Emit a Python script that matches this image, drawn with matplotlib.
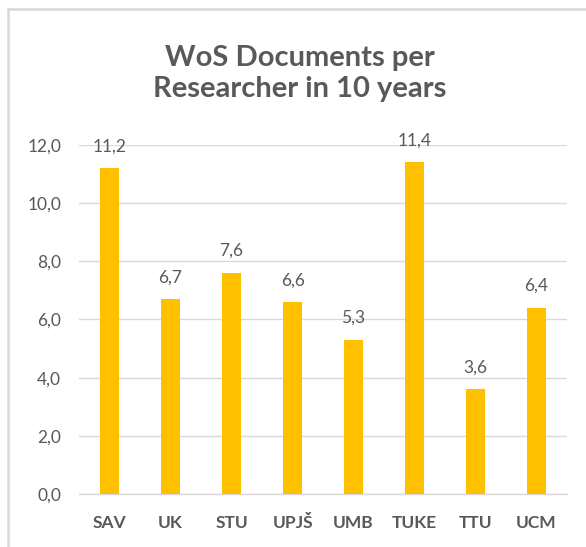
import matplotlib
matplotlib.use("Agg")
import matplotlib.pyplot as plt
from matplotlib.lines import Line2D

categories = ["SAV", "UK", "STU", "UPJŠ", "UMB", "TUKE", "TTU", "UCM"]
values = [11.2, 6.7, 7.6, 6.6, 5.3, 11.4, 3.6, 6.4]
yticks = [0, 2, 4, 6, 8, 10, 12]
title = "WoS Documents per\nResearcher in 10 years"

plt.rcParams['font.family'] = ['Lato', 'DejaVu Sans']
gray = "#595959"
grid = "#D9D9D9"
bar_color = "#FFC000"

fig = plt.figure(figsize=(5.86, 5.47), dpi=100)
ax = fig.add_axes([0.135, 0.0969, 0.8326, 0.6381])

x = range(len(categories))
bars = ax.bar(x, values, width=0.31, color=bar_color, zorder=3)
ax.set_xlim(-0.5, len(categories) - 0.5)
ax.set_ylim(0, 12)
ax.set_yticks(yticks)
ax.set_yticklabels([f"{v:.1f}".replace(".", ",") for v in yticks], fontsize=12.5, color=gray)
ax.set_xticks(list(x))
ax.set_xticklabels(categories, fontsize=12.5, color=gray, fontweight='bold')
ax.tick_params(axis='y', length=0, pad=13)
ax.tick_params(axis='x', length=0, pad=15)
ax.yaxis.grid(True, color=grid, linewidth=1, zorder=0)
for s in ['top', 'right', 'left']:
    ax.spines[s].set_visible(False)
ax.spines['bottom'].set_color(grid)
ax.spines['bottom'].set_linewidth(1)

for xi, v in zip(x, values):
    ax.annotate(f"{v:.1f}".replace(".", ","), (xi, v), xytext=(0, 10),
                textcoords='offset points', ha='center', va='bottom',
                fontsize=12.5, color=gray)

fig.text(0.512, 0.865, title, ha='center', va='center', fontsize=21,
         fontweight='bold', color=gray, linespacing=1.25)

# chart border (top and left)
fig.add_artist(Line2D([8/586, 1.0], [1 - 9/547, 1 - 9/547], color=grid, linewidth=1.8, transform=fig.transFigure))
fig.add_artist(Line2D([8/586, 8/586], [0, 1 - 9/547], color=grid, linewidth=1.8, transform=fig.transFigure))

fig.savefig("out.png", dpi=100)
